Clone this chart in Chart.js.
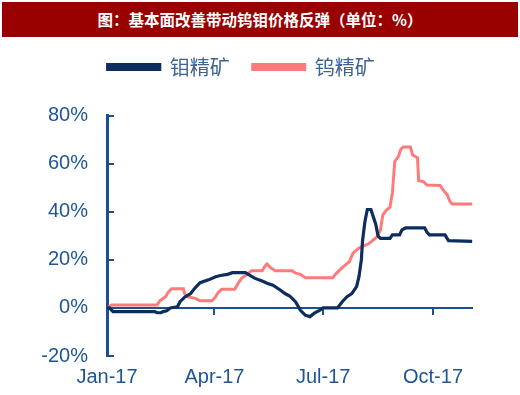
<!DOCTYPE html>
<html>
<head>
<meta charset="utf-8">
<script src="https://cdn.jsdelivr.net/npm/chart.js@4/dist/chart.umd.min.js"></script>
<style>
html,body{margin:0;padding:0;background:#fff;}
#wrap{position:relative;width:520px;height:395px;}
#title{position:absolute;left:2px;top:2px;width:516px;height:35px;background:#990000;color:#fff;
font:bold 15.5px "Noto Sans CJK SC",sans-serif;line-height:35px;text-align:center;z-index:2;}
canvas{position:absolute;left:0;top:0;}
</style>
</head>
<body>
<div id="wrap">
<div id="title">图：基本面改善带动钨钼价格反弹（单位：%）</div>
<canvas id="c" width="520" height="395"></canvas>
</div>
<script>
// Day of year 2017 (0 = Jan 1)
const tickDays = [0, 90, 181, 273];
const tickLabels = ['Jan-17', 'Apr-17', 'Jul-17', 'Oct-17'];
const yTicks = [-20, 0, 20, 40, 60, 80];

const seriesNames = ['钼精矿', '钨精矿'];

const moDays   = [0, 2, 5, 40, 42, 45, 47, 50, 53, 59, 61, 65, 70, 74, 78, 85, 91, 95, 101, 105, 116, 120, 124, 130, 134, 139, 145, 149, 153, 158, 162, 166, 170, 174, 178, 181, 193, 197, 201, 205, 209, 211, 213, 214, 216, 218, 221, 225, 227, 229, 237, 239, 245, 247, 250, 266, 268, 270, 283, 286, 306];
const moValues = [0, 0, -1.5, -1.5, -2, -2, -1.5, -1.2, 0, 0.5, 2.5, 4.5, 6, 8.5, 10.5, 11.7, 13, 13.5, 14, 14.7, 14.7, 13.5, 12.3, 11.2, 10.3, 9.5, 7.5, 6, 5, 2.5, -1, -3, -3.6, -2, -1, 0, 0, 2.6, 4.7, 6, 8.9, 13, 20, 28, 36, 41, 41, 35, 30, 29, 29, 30.4, 30.4, 32.5, 33.3, 33.3, 31.5, 30.4, 30.4, 28, 27.7];

const wDays   = [0, 4, 42, 44, 49, 51, 54, 64, 65, 67, 74, 78, 88, 91, 93, 96, 107, 110, 113, 117, 121, 130, 132, 134, 137, 141, 155, 158, 162, 166, 189, 192, 197, 203, 206, 211, 219, 223, 226, 229, 231, 234, 237, 239, 241, 244, 246, 248, 254, 256, 260, 261, 265, 268, 279, 281, 285, 287, 289, 306];
const wValues = [0, 1.2, 1.2, 2.9, 4.7, 6.4, 8, 8, 6, 4.7, 4, 3, 3, 4.7, 6.4, 7.8, 7.8, 10.4, 12.5, 13.8, 15.5, 15.5, 17.2, 18.3, 16.7, 15.5, 15.5, 14.5, 14, 12.6, 12.6, 14.4, 16.8, 19.3, 22.8, 24.9, 26.7, 28.3, 29.5, 32.5, 38.8, 40.8, 42, 48, 61, 63, 66, 67, 67, 63.7, 62.5, 53, 52.6, 51.2, 51, 49.5, 47, 44.5, 43.3, 43.3];

const NAVY = '#0c2d5e';
const PINK = '#ff7b7b';
const AXIS = '#1c4f8e';
const TXT = '#1f5597';

const toPts = (xs, ys) => xs.map((x, i) => ({x: x, y: ys[i]}));

new Chart(document.getElementById('c'), {
  type: 'line',
  data: {
    datasets: [
      {label: seriesNames[0], data: toPts(moDays, moValues), borderColor: NAVY, backgroundColor: NAVY,
       borderWidth: 3.2, pointRadius: 0, tension: 0, xAxisID: 'x', yAxisID: 'y'},
      {label: seriesNames[1], data: toPts(wDays, wValues), borderColor: PINK, backgroundColor: PINK,
       borderWidth: 3, pointRadius: 0, tension: 0, xAxisID: 'x', yAxisID: 'y'}
    ]
  },
  options: {
    responsive: false,
    animation: false,
    layout: {padding: {top: 34, left: 10, right: 47.6, bottom: 0}},
    plugins: {
      legend: {
        display: true, position: 'top',
        labels: {boxWidth: 52, boxHeight: 5, padding: 23, color: '#3b6394',
                 font: {family: '"Noto Sans CJK SC", sans-serif', size: 20}}
      },
      subtitle: {display: true, text: ' ', weight: 500, padding: {top: 0, bottom: 0},
                 font: {size: 24}, position: 'top'},
      title: {display: false},
      tooltip: {enabled: false}
    },
    scales: {
      x: {
        type: 'linear', position: 'bottom', min: 0, max: 306,
        afterBuildTicks: s => { s.ticks = tickDays.map(v => ({value: v})); },
        afterFit: s => { s.height = 39; },
        grid: {display: false},
        border: {display: false},
        ticks: {
          autoSkip: false, maxRotation: 0, padding: 1, color: TXT,
          font: {family: '"Liberation Sans", Arial, sans-serif', size: 20},
          callback: v => { const i = tickDays.indexOf(v); return i >= 0 ? tickLabels[i] : ''; }
        }
      },
      x0: {
        type: 'linear', position: {y: 0}, min: 0, max: 306,
        afterBuildTicks: s => { s.ticks = tickDays.slice(1).map(v => ({value: v})); },
        grid: {drawOnChartArea: false, drawTicks: true, tickLength: 6, color: AXIS, lineWidth: 2},
        border: {display: true, color: AXIS, width: 2},
        ticks: {display: false}
      },
      y: {
        type: 'linear', position: 'left', min: -20, max: 80,
        afterBuildTicks: s => { s.ticks = yTicks.map(v => ({value: v})); },
        afterFit: s => { s.width = 97; },
        grid: {drawOnChartArea: false, drawTicks: true, tickLength: -7, color: AXIS, lineWidth: 2},
        border: {display: true, color: AXIS, width: 3},
        ticks: {
          padding: 26, color: TXT,
          font: {family: '"Liberation Sans", Arial, sans-serif', size: 20},
          callback: v => v + '%'
        }
      }
    }
  }
});
</script>
</body>
</html>
